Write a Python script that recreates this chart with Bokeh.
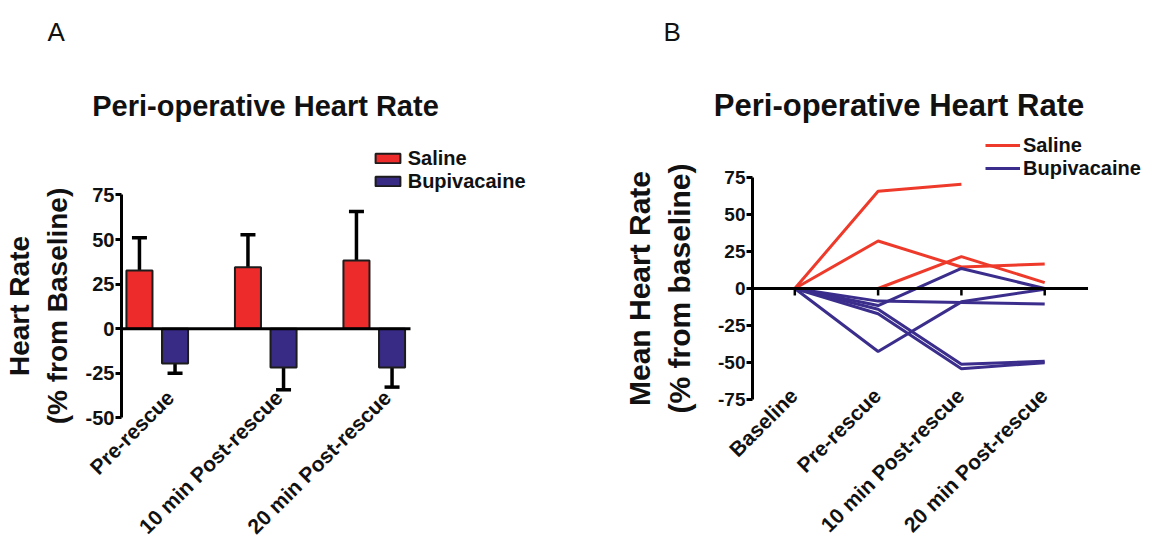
import math
import numpy as np
from bokeh.plotting import figure
from bokeh.layouts import row
from bokeh.core.properties import value
from bokeh.models import (ColumnDataSource, FixedTicker, Whisker, TeeHead, PrintfTickFormatter,
                          Legend, LegendItem, Label, LabelSet, Range1d)
from bokeh.embed import file_html
from bokeh.resources import INLINE

# ---------------- data: panel A (group means and error) ----------------
categories_a = ["Pre-rescue", "10 min Post-rescue", "20 min Post-rescue"]
saline_mean = [32.7, 34.5, 38.3]
saline_err = [18.3, 18.2, 27.5]
bupi_mean = [-19.5, -21.7, -21.7]
bupi_err = [5.5, 12.5, 11.0]
yticks_a = [-50, -25, 0, 25, 50, 75]

# ---------------- data: panel B (individual animals) ----------------
categories_b = ["Baseline", "Pre-rescue", "10 min Post-rescue", "20 min Post-rescue"]
saline_1 = [0, 65.5, 70.3, float("nan")]
saline_2 = [0, 32.0, 14.5, 16.5]
saline_3 = [0, 0.0, 21.5, 4.0]
bupi_1 = [0, -42.5, -9.0, -0.5]
bupi_2 = [0, -8.5, -9.5, -10.5]
bupi_3 = [0, -11.5, 13.5, 0.0]
bupi_4 = [0, -14.0, -51.0, -49.0]
bupi_5 = [0, -17.0, -54.0, -50.0]
yticks_b = [-75, -50, -25, 0, 25, 50, 75]

FONT = "Liberation Sans"
RED = "#EE2B2B"
BLUE = "#382B85"
LRED = "#EE3A2A"
LBLUE = "#3A2D8C"
INK = "#111111"
H = 542


def style_yaxis(ax, ticks, bounds, loc, label, label_size, tick_size, label_standoff):
    ax.fixed_location = loc
    ax.bounds = bounds
    ax.ticker = FixedTicker(ticks=ticks)
    ax.formatter = PrintfTickFormatter(format="%d")
    ax.axis_line_width = 3
    ax.axis_line_color = "black"
    ax.major_tick_line_width = 3
    ax.major_tick_line_color = "black"
    ax.major_tick_out = 6
    ax.major_tick_in = 0
    ax.minor_tick_line_color = None
    ax.major_label_text_font = FONT
    ax.major_label_text_font_size = tick_size
    ax.major_label_text_font_style = "bold"
    ax.major_label_text_color = INK
    ax.major_label_standoff = 1
    ax.axis_label = label
    ax.axis_label_text_font = FONT
    ax.axis_label_text_font_size = label_size
    ax.axis_label_text_font_style = "bold"
    ax.axis_label_text_color = INK
    ax.axis_label_standoff = label_standoff


def make_fig(width, xr, yr):
    p = figure(width=width, height=H, x_range=Range1d(*xr), y_range=Range1d(*yr),
               x_axis_location=None, toolbar_location=None, output_backend="svg", title=None,
               min_border_left=0, min_border_right=0, min_border_top=0, min_border_bottom=0)
    p.grid.grid_line_color = None
    p.outline_line_color = None
    p.background_fill_color = "white"
    return p


# ======================= Panel A =======================
xa_lo, xa_hi = -0.33, 2.334          # extent of the plotted area (axis to axis end)
pa = make_fig(593, (-1.4447, 4.0207), (-119.8, 184.0))

xa = np.arange(len(categories_a))
src_s = ColumnDataSource(dict(
    x=xa - 0.164, top=saline_mean,
    lower=saline_mean, upper=[m + e for m, e in zip(saline_mean, saline_err)]))
src_b = ColumnDataSource(dict(
    x=xa + 0.164, top=bupi_mean,
    lower=[m - e for m, e in zip(bupi_mean, bupi_err)], upper=bupi_mean))

r_s = pa.vbar(x="x", top="top", bottom=0, width=0.24, source=src_s,
              fill_color=RED, line_color="#1c1c1c", line_width=2)
r_b = pa.vbar(x="x", top="top", bottom=0, width=0.24, source=src_b,
              fill_color=BLUE, line_color="#1c1c1c", line_width=2)

pa.add_layout(Whisker(source=src_s, base="x", lower="lower", upper="upper", dimension="height",
                      line_width=3.5, line_color="black", lower_head=None,
                      upper_head=TeeHead(size=15, line_width=3.5, line_color="black")))
pa.add_layout(Whisker(source=src_b, base="x", lower="lower", upper="upper", dimension="height",
                      line_width=3.5, line_color="black", upper_head=None,
                      lower_head=TeeHead(size=15, line_width=3.5, line_color="black")))

# zero line (x axis crossing at 0)
pa.segment(x0=xa_lo, y0=0, x1=xa_hi, y1=0, line_color="black", line_width=3)

style_yaxis(pa.yaxis[0], yticks_a, (-50, 75), xa_lo,
            "Heart Rate\n(% from Baseline)", "28px", "20px", 10)

pa.add_layout(LabelSet(x="x", y=-36.5, text="text",
                       source=ColumnDataSource(dict(x=xa, text=categories_a)),
                       angle=math.pi / 4, x_offset=13, text_align="right", text_baseline="middle",
                       text_font=value(FONT), text_font_size=value("21px"),
                       text_font_style="bold", text_color=INK))

leg_a = Legend(items=[LegendItem(label="Saline", renderers=[r_s]),
                      LegendItem(label="Bupivacaine", renderers=[r_b])],
               location=(371.7, 349.2), orientation="vertical", padding=0, margin=0, spacing=0,
               glyph_width=31, glyph_height=12, label_height=22, label_standoff=5,
               label_text_font=FONT, label_text_font_size="20px", label_text_font_style="bold",
               label_text_color=INK, background_fill_alpha=0, border_line_color=None)
pa.add_layout(leg_a)

pa.add_layout(Label(x=265, y=437, x_units="screen", y_units="screen",
                    text="Peri-operative Heart Rate", text_align="center",
                    text_baseline="alphabetic", text_font=FONT, text_font_size="29px",
                    text_font_style="bold", text_color=INK))
pa.add_layout(Label(x=47, y=510.3, x_units="screen", y_units="screen", text="A",
                    text_align="left", text_baseline="alphabetic", text_font=FONT,
                    text_font_size="26px", text_color=INK))

# ======================= Panel B =======================
xb_lo, xb_hi = -0.508, 3.52
pb = make_fig(561, (-2.4166, 4.318), (-171.16, 194.07))

xb = np.arange(len(categories_b))
saline_series = [saline_1, saline_2, saline_3]
bupi_series = [bupi_1, bupi_2, bupi_3, bupi_4, bupi_5]

saline_renderers = [pb.line(xb, np.array(ys, dtype=float), line_color=LRED, line_width=3)
                    for ys in saline_series]
bupi_renderers = [pb.line(xb, np.array(ys, dtype=float), line_color=LBLUE, line_width=3)
                  for ys in bupi_series]

pb.segment(x0=xb_lo, y0=0, x1=xb_hi, y1=0, line_color="black", line_width=3)
pb.segment(x0=xb, y0=0, x1=xb, y1=-4.7, line_color="black", line_width=2.5)

style_yaxis(pb.yaxis[0], yticks_b, (-75, 75), xb_lo,
            "Mean Heart Rate\n(% from baseline)", "30px", "19px", 19)

pb.add_layout(LabelSet(x="x", y=-69.7, text="text",
                       source=ColumnDataSource(dict(x=xb, text=categories_b)),
                       angle=math.pi / 4, x_offset=-1, text_align="right", text_baseline="middle",
                       text_font=value(FONT), text_font_size=value("21px"),
                       text_font_style="bold", text_color=INK))

leg_b = Legend(items=[LegendItem(label="Saline", renderers=saline_renderers[:1]),
                      LegendItem(label="Bupivacaine", renderers=bupi_renderers[:1])],
               location=(392, 362.5), orientation="vertical", padding=0, margin=0, spacing=0,
               glyph_width=35, glyph_height=12, label_height=22, label_standoff=3,
               label_text_font=FONT, label_text_font_size="20px", label_text_font_style="bold",
               label_text_color=INK, background_fill_alpha=0, border_line_color=None)
pb.add_layout(leg_b)

pb.add_layout(Label(x=305.5, y=437, x_units="screen", y_units="screen",
                    text="Peri-operative Heart Rate", text_align="center",
                    text_baseline="alphabetic", text_font=FONT, text_font_size="31px",
                    text_font_style="bold", text_color=INK))
pb.add_layout(Label(x=70, y=510.3, x_units="screen", y_units="screen", text="B",
                    text_align="left", text_baseline="alphabetic", text_font=FONT,
                    text_font_size="26px", text_color=INK))

layout = row(pa, pb)
open("out.html", "w").write(file_html(layout, INLINE))
